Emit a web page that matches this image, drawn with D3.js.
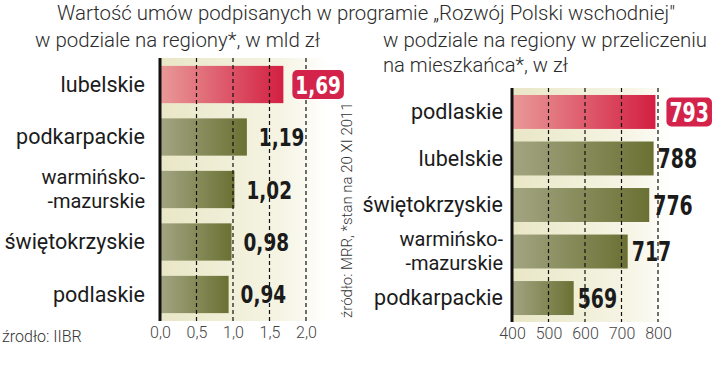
<!DOCTYPE html>
<html><head><meta charset="utf-8">
<script src="https://cdn.jsdelivr.net/npm/d3@7"></script>
<style>
html,body{margin:0;padding:0;background:#fff;}
svg{display:block;}
</style></head>
<body>
<svg id="chart" width="720" height="368"></svg>
<script>
// ---- data ----
const title = "Wartość umów podpisanych w programie „Rozwój Polski wschodniej\"";
const leftSubtitle = ["w podziale na regiony*, w mld zł"];
const rightSubtitle = ["w podziale na regiony w przeliczeniu", "na mieszkańca*, w zł"];
const leftCategories = ["lubelskie", "podkarpackie", "warmińsko-\n-mazurskie", "świętokrzyskie", "podlaskie"];
const leftValues = [1.69, 1.19, 1.02, 0.98, 0.94];
const leftTicks = [0, 0.5, 1.0, 1.5, 2.0];
const rightCategories = ["podlaskie", "lubelskie", "świętokrzyskie", "warmińsko-\n-mazurskie", "podkarpackie"];
const rightValues = [793, 788, 776, 717, 569];
const rightTicks = [400, 500, 600, 700, 800];
const sourceLeft = "źrodło: IIBR";
const sourceRotated = "źródło: MRR, *stan na 20 XI 2011";

const svg = d3.select("#chart");
const defs = svg.append("defs");
function lin(id, stops){
  const g = defs.append("linearGradient").attr("id", id).attr("x1","0%").attr("x2","100%").attr("y1","0%").attr("y2","0%");
  stops.forEach(s => g.append("stop").attr("offset", s[0]).attr("stop-color", s[1]));
}
lin("gGreen", [["0%","#a3a582"],["100%","#6a7133"]]);
lin("gRed", [["0%","#e99a98"],["100%","#d31f42"]]);
lin("gBg", [["0%","#e9e7c6"],["75%","#f6f5e6"],["100%","#ffffff"]]);

const labelFont = "Roboto, sans-serif";
const valueFont = "'DejaVu Sans Condensed','DejaVu Sans',sans-serif";

function fitText(sel, w){
  const len = sel.node().getComputedTextLength();
  if (len > 0) sel.attr("textLength", w).attr("lengthAdjust", "spacingAndGlyphs");
  return sel;
}

// title
fitText(svg.append("text").attr("x", 57).attr("y", 20)
  .attr("font-family", labelFont).attr("font-weight", 300).attr("font-size", 21)
  .attr("fill", "#2b2b2b").text(title), 618);
fitText(svg.append("text").attr("x", 35).attr("y", 47)
  .attr("font-family", labelFont).attr("font-weight", 300).attr("font-size", 21)
  .attr("fill", "#2b2b2b").text(leftSubtitle[0]), 285);
const rsW = [324, 185];
rightSubtitle.forEach((t,i) => fitText(svg.append("text").attr("x", 383).attr("y", 47 + i*25)
  .attr("font-family", labelFont).attr("font-weight", 300).attr("font-size", 21)
  .attr("fill", "#2b2b2b").text(t), rsW[i]));

function panel(cfg){
  const g = svg.append("g");
  const x = d3.scaleLinear().domain(cfg.domain).range(cfg.xr);
  const y = d3.scaleBand().domain(cfg.cats).range(cfg.yr).paddingInner(cfg.pi).paddingOuter(cfg.po);
  // background
  g.append("rect").attr("x", cfg.xr[0]).attr("y", cfg.yr[0])
    .attr("width", cfg.bgw).attr("height", cfg.yr[1]-cfg.yr[0]).attr("fill","url(#gBg)");
  // bars
  g.selectAll("rect.bar").data(cfg.cats).join("rect").attr("class","bar")
    .attr("x", cfg.xr[0]).attr("y", d => y(d))
    .attr("width", (d,i) => x(cfg.vals[i]) - cfg.xr[0]).attr("height", y.bandwidth())
    .attr("fill", (d,i) => i === 0 ? "url(#gRed)" : "url(#gGreen)");
  // gridlines
  g.selectAll("line.grid").data(cfg.ticks.slice(1)).join("line").attr("class","grid")
    .attr("x1", d => x(d)).attr("x2", d => x(d))
    .attr("y1", cfg.yr[0]).attr("y2", cfg.yr[1])
    .attr("stroke", "#111").attr("stroke-width", 1.2).attr("stroke-dasharray", "4,3");
  // axis line
  g.append("line").attr("x1", cfg.xr[0]).attr("x2", cfg.xr[0]).attr("y1", cfg.yr[0]).attr("y2", cfg.yr[1])
    .attr("stroke", "#111").attr("stroke-width", 3);
  // x axis
  const ax = g.append("g").attr("transform", `translate(0,${cfg.yr[1]})`)
    .call(d3.axisBottom(x).tickValues(cfg.ticks).tickSize(0).tickPadding(6).tickFormat(cfg.tickFmt));
  ax.select(".domain").remove();
  ax.selectAll("text").attr("font-family", labelFont).attr("font-weight", 300)
    .attr("font-size", 16).attr("fill", "#444");
  // category labels
  cfg.cats.forEach((c) => {
    const lines = c.split("\n");
    const multi = lines.length > 1;
    const cy = y(c) + y.bandwidth()/2;
    lines.forEach((ln, j) => {
      g.append("text").attr("text-anchor","end").attr("font-family", labelFont)
        .attr("font-size", multi ? 20 : 21.5).attr("fill", "#1b1b1b")
        .attr("x", cfg.labelX)
        .attr("y", cy + (j - (lines.length-1)/2) * 23.5).attr("dy", "0.33em").text(ln);
    });
  });
  // values
  cfg.cats.forEach((c, i) => {
    const cy = y(c) + y.bandwidth()/2;
    const tx = x(cfg.vals[i]) + (i === 0 ? cfg.badgeOff : cfg.valOff);
    const gt = g.append("g").attr("transform", `translate(${tx},${cy}) scale(${cfg.sx},1)`);
    const t = gt.append("text").attr("x", 0).attr("y", 0).attr("dy", "0.36em")
      .attr("font-family", valueFont).attr("font-weight", 700).attr("font-size", cfg.valSize)
      .attr("fill", i === 0 ? "#fff" : "#1b1b1b").text(cfg.fmt(cfg.vals[i]));
    if (i === 0) {
      const bb = t.node().getBBox();
      gt.insert("rect", () => t.node()).attr("x", bb.x - 3/cfg.sx).attr("y", -14.5)
        .attr("width", bb.width + 6/cfg.sx).attr("height", 29).attr("rx", 5/cfg.sx).attr("ry", 5)
        .attr("fill", "#d3234a");
    }
  });
}

panel({
  cats: leftCategories, vals: leftValues, ticks: leftTicks, domain: [0, 2],
  xr: [160, 306], yr: [58, 321], pi: 0.29, po: 0.15, bgw: 168, labelX: 145,
  fmt: d => d3.format(".2f")(d).replace(".", ","),
  tickFmt: d => d3.format(".1f")(d).replace(".", ","),
  valOff: 12, badgeOff: 12, valSize: 25, sx: 0.82
});
panel({
  cats: rightCategories, vals: rightValues, ticks: rightTicks, domain: [400, 800],
  xr: [512, 658], yr: [88, 322], pi: 0.27, po: 0.15, bgw: 160, labelX: 503,
  fmt: d => String(d), tickFmt: d => String(d),
  valOff: 4, badgeOff: 14, valSize: 27, sx: 0.78
});

// sources
svg.append("text").attr("x", 2).attr("y", 342).attr("font-family", labelFont).attr("font-weight", 300)
  .attr("font-size", 16).attr("fill", "#333").text(sourceLeft);
svg.append("text").attr("transform", "translate(352,318) rotate(-90)")
  .attr("font-family", labelFont).attr("font-weight", 300).attr("font-size", 15)
  .attr("fill", "#333").text(sourceRotated);
</script>
</body></html>
